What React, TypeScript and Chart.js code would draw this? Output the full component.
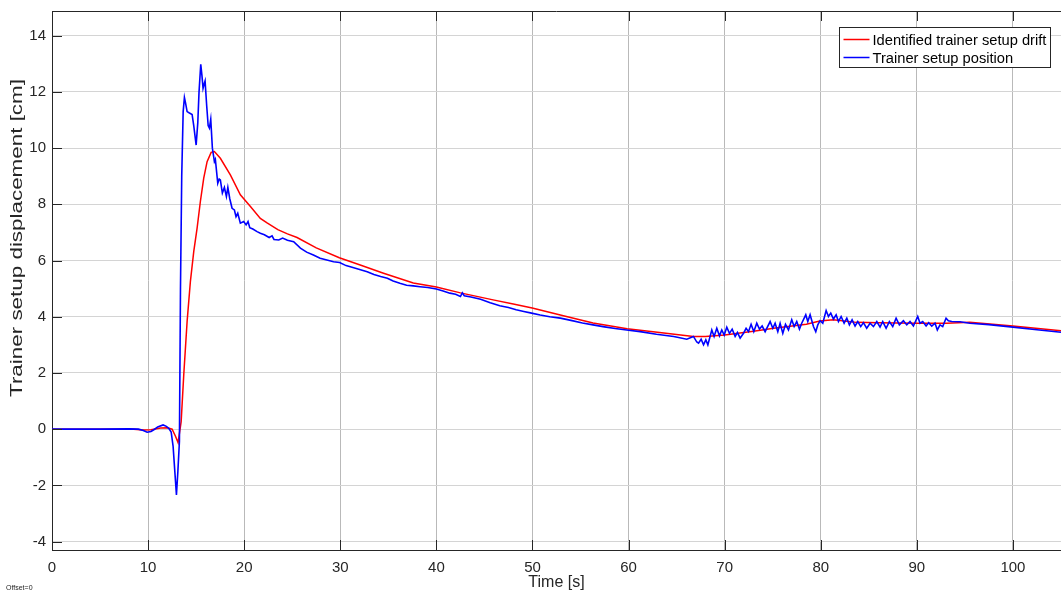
import { useEffect, useRef } from "react";
import { Chart, registerables } from "chart.js";

Chart.register(...registerables);

// Identified drift of the trainer setup (time in s, displacement in cm)
const driftTime = [
  0, 8.5, 9.5, 10.3, 11.3, 12.0, 12.5, 12.85, 13.12, 13.44, 13.71, 14.06, 14.4, 14.75, 15.1,
  15.44, 15.79, 16.14, 16.56, 16.9, 17.52, 18.56, 19.6, 20.65, 21.68, 22.38, 23.5, 24.5, 25.5,
  27.5, 29.9, 32.0, 34.5, 37.6, 40.0, 42.5, 45.9, 48.0, 49.97, 53.0, 56.3, 59.85, 63.0, 66.75,
  68.0, 70.0, 73.0, 75.1, 78.5, 79.9, 81.3, 83.7, 86.0, 90.0, 93.1, 95.5, 100.0, 105.0,
];
const driftValues = [
  0, 0, -0.03, -0.02, 0.04, 0.05, 0.0, -0.25, -0.48, 0.27, 1.93, 3.83, 5.25, 6.32, 7.15,
  8.1, 8.93, 9.52, 9.85, 9.88, 9.64, 9.05, 8.34, 7.92, 7.5, 7.34, 7.1, 6.95, 6.82,
  6.45, 6.1, 5.85, 5.55, 5.2, 5.06, 4.85, 4.6, 4.45, 4.31, 4.05, 3.78, 3.57, 3.45, 3.3,
  3.3, 3.35, 3.48, 3.59, 3.73, 3.85, 3.89, 3.8, 3.79, 3.77, 3.77, 3.8, 3.67, 3.5,
];

// Measured position of the trainer setup
const positionTime = [
  0, 5, 8, 9, 9.5, 9.9, 10.3, 10.6, 11.0, 11.56, 11.9, 12.15, 12.4, 12.6, 12.8, 12.95, 13.1,
  13.26, 13.37, 13.5, 13.65, 13.78, 13.9, 14.06, 14.3, 14.58, 14.75, 15.0, 15.17, 15.3, 15.48,
  15.6, 15.72, 15.85, 15.93, 16.1, 16.25, 16.38, 16.52, 16.69, 16.9, 17.0, 17.25, 17.4, 17.52,
  17.73, 17.94, 18.15, 18.3, 18.5, 18.74, 18.98, 19.15, 19.33, 19.6, 19.95, 20.2, 20.4, 20.58,
  20.9, 21.34, 21.68, 22.1, 22.6, 22.9, 23.1, 23.6, 24.0, 24.5, 25.15, 25.85, 26.5, 27.2, 27.9,
  28.6, 29.3, 29.93, 30.6, 31.4, 32.1, 32.8, 33.5, 34.2, 34.9, 35.5, 36.2, 36.9, 37.6, 38.3,
  39.1, 40.0, 40.7, 41.4, 42.0, 42.5, 42.7, 42.9, 43.6, 44.6, 45.6, 46.6, 47.5, 48.3, 49.1,
  49.9, 50.8, 51.8, 52.9, 54.0, 55.2, 56.3, 57.5, 58.6, 59.8, 61.2, 62.9, 64.7, 66.06, 66.75,
  67.1, 67.28, 67.55, 67.8, 68.04, 68.25, 68.66, 68.9, 69.18, 69.46, 69.7, 69.95, 70.22, 70.5,
  70.78, 71.09, 71.33, 71.61, 71.96, 72.23, 72.48, 72.75, 73.03, 73.34, 73.62, 73.9, 74.21,
  74.73, 75.01, 75.25, 75.53, 75.77, 76.05, 76.33, 76.64, 76.98, 77.23, 77.5, 77.78, 78.02,
  78.44, 78.65, 78.89, 79.24, 79.48, 79.69, 79.93, 80.21, 80.56, 80.8, 81.04, 81.32, 81.6,
  81.84, 82.12, 82.43, 82.71, 82.98, 83.26, 83.57, 83.85, 84.16, 84.44, 84.78, 85.13, 85.48,
  85.83, 86.17, 86.45, 86.8, 87.14, 87.49, 87.84, 88.18, 88.6, 88.95, 89.29, 89.64, 90.09,
  90.33, 90.61, 90.96, 91.23, 91.55, 91.89, 92.13, 92.41, 92.69, 93.04, 93.28, 93.63, 94.49,
  95.53, 97.5, 100, 102.5, 105,
];
const positionValues = [
  0, 0, 0.01, 0, -0.05, -0.11, -0.08, -0.02, 0.08, 0.15, 0.1, 0.03, -0.1, -0.6, -1.6, -2.34, -1.5,
  -0.44, 5.03, 9.0, 11.3, 11.8, 11.6, 11.3, 11.25, 11.2, 10.8, 10.11, 10.9, 12.0, 12.98,
  12.6, 12.13, 12.3, 12.39, 11.5, 10.8, 10.71, 11.03, 10.0, 9.52, 9.6, 8.75, 8.9, 8.87,
  8.4, 8.6, 8.28, 8.6, 8.2, 7.86, 7.8, 7.56, 7.68, 7.33, 7.39, 7.27, 7.39, 7.17,
  7.12, 7.03, 6.97, 6.92, 6.82, 6.88, 6.75, 6.73, 6.8, 6.72, 6.67, 6.44, 6.3, 6.2, 6.08,
  6.02, 5.96, 5.93, 5.82, 5.74, 5.67, 5.6, 5.5, 5.43, 5.37, 5.27, 5.19, 5.12, 5.1, 5.07,
  5.04, 4.99, 4.92, 4.84, 4.8, 4.72, 4.85, 4.75, 4.7, 4.62, 4.5, 4.39, 4.33, 4.25, 4.19,
  4.13, 4.06, 4.0, 3.95, 3.87, 3.78, 3.71, 3.64, 3.58, 3.53, 3.47, 3.38, 3.3, 3.2, 3.3,
  3.1, 3.06, 3.2, 3.0, 3.18, 3.0, 3.53, 3.3, 3.59, 3.32, 3.53, 3.35, 3.63, 3.41,
  3.56, 3.3, 3.44, 3.24, 3.41, 3.59, 3.47, 3.73, 3.47, 3.77, 3.56, 3.67, 3.47,
  3.83, 3.59, 3.77, 3.47, 3.77, 3.41, 3.73, 3.53, 3.89, 3.65, 3.83, 3.56, 3.77,
  4.07, 3.83, 4.07, 3.65, 3.47, 3.71, 3.86, 3.77, 4.22, 4.01, 4.13, 3.92, 4.07,
  3.83, 4.01, 3.77, 3.95, 3.71, 3.89, 3.67, 3.83, 3.65, 3.79, 3.59, 3.77, 3.65,
  3.83, 3.63, 3.83, 3.59, 3.83, 3.65, 3.95, 3.71, 3.86, 3.71, 3.83, 3.67, 4.01,
  3.77, 3.83, 3.67, 3.79, 3.67, 3.77, 3.53, 3.71, 3.65, 3.95, 3.86, 3.83, 3.82,
  3.77, 3.72, 3.63, 3.54, 3.45,
];

const seriesNames = ["Identified trainer setup drift", "Trainer setup position"];
const seriesColors = ["#ff0000", "#0000ff"];
const xTickValues = [0, 10, 20, 30, 40, 50, 60, 70, 80, 90, 100];
const yTickValues = [-4, -2, 0, 2, 4, 6, 8, 10, 12, 14];
const xAxisTitle = "Time [s]";
const yAxisTitle = "Trainer setup displacement [cm]";
const footNote = "Offset=0";

const FONT = "'Liberation Sans', Arial, Helvetica, sans-serif";
const AXIS_COLOR = "#262626";

const pairs = (xs: number[], ys: number[]) => xs.map((x, i) => ({ x, y: ys[i] }));

// Axes box, inward tick marks, titles and the legend, drawn in MATLAB style
const decorations = {
  id: "decorations",
  afterDatasetsDraw(chart: any) {
    const { ctx, chartArea, scales } = chart;
    const { left, top, right, bottom } = chartArea;
    ctx.save();
    ctx.strokeStyle = AXIS_COLOR;
    ctx.lineWidth = 1;
    ctx.beginPath();
    ctx.moveTo(left, Math.round(top) + 0.5);
    ctx.lineTo(right, Math.round(top) + 0.5);
    ctx.stroke();
    const tickLen = 10;
    ctx.beginPath();
    for (const v of xTickValues) {
      const px = Math.round(scales.x.getPixelForValue(v)) + 0.5;
      ctx.moveTo(px, bottom);
      ctx.lineTo(px, bottom - tickLen);
      ctx.moveTo(px, top);
      ctx.lineTo(px, top + tickLen);
    }
    for (const v of yTickValues) {
      const py = Math.round(scales.y.getPixelForValue(v)) + 0.5;
      ctx.moveTo(left, py);
      ctx.lineTo(left + tickLen, py);
    }
    ctx.stroke();

    // axis titles
    ctx.fillStyle = AXIS_COLOR;
    ctx.font = `16px ${FONT}`;
    ctx.textAlign = "center";
    ctx.textBaseline = "middle";
    ctx.fillText(xAxisTitle, (left + right) / 2, 583);
    ctx.save();
    ctx.translate(18, 238);
    ctx.rotate(-Math.PI / 2);
    ctx.scale(1.4, 1);
    ctx.fillText(yAxisTitle, 0, 0);
    ctx.restore();

    ctx.font = `7px ${FONT}`;
    ctx.textAlign = "left";
    ctx.fillText(footNote, 6, 588);

    // legend
    const bx = 839.5, by = 27.5, bw = 211, bh = 40;
    ctx.fillStyle = "#ffffff";
    ctx.fillRect(bx, by, bw, bh);
    ctx.strokeStyle = AXIS_COLOR;
    ctx.strokeRect(bx, by, bw, bh);
    ctx.font = `14.7px ${FONT}`;
    ctx.textBaseline = "middle";
    seriesNames.forEach((name, i) => {
      const cy = by + 12 + i * 18;
      ctx.strokeStyle = seriesColors[i];
      ctx.lineWidth = 1.5;
      ctx.beginPath();
      ctx.moveTo(bx + 4, cy);
      ctx.lineTo(bx + 30, cy);
      ctx.stroke();
      ctx.fillStyle = "#000000";
      ctx.fillText(name, bx + 33, cy + 1);
    });
    ctx.restore();
  },
};

export default function App() {
  const canvasRef = useRef<HTMLCanvasElement | null>(null);

  useEffect(() => {
    const canvas = canvasRef.current;
    if (!canvas) return;
    const chart = new Chart(canvas, {
      type: "line",
      data: {
        datasets: [
          {
            label: seriesNames[0],
            data: pairs(driftTime, driftValues),
            borderColor: seriesColors[0],
            borderWidth: 1.5,
            pointRadius: 0,
            tension: 0,
            order: 2,
          },
          {
            label: seriesNames[1],
            data: pairs(positionTime, positionValues),
            borderColor: seriesColors[1],
            borderWidth: 1.6,
            pointRadius: 0,
            tension: 0,
            order: 1,
          },
        ],
      },
      options: {
        responsive: false,
        animation: false,
        events: [],
        layout: { padding: { top: 11, right: 0, bottom: 0, left: 0 } },
        plugins: { legend: { display: false }, tooltip: { enabled: false } },
        scales: {
          x: {
            type: "linear",
            min: 0,
            max: 105,
            afterBuildTicks: (s: any) => {
              s.ticks = xTickValues.map((value) => ({ value }));
            },
            afterFit: (s: any) => {
              s.height = 44;
              s.paddingLeft = 0;
              s.paddingRight = 0;
            },
            grid: { color: "#b9b9b9", lineWidth: 1, drawTicks: false },
            border: { display: true, color: AXIS_COLOR, width: 1 },
            ticks: {
              padding: 9,
              color: AXIS_COLOR,
              font: { family: FONT, size: 15 },
              maxRotation: 0,
              autoSkip: false,
            },
          },
          y: {
            type: "linear",
            min: -4.3,
            max: 14.88,
            afterBuildTicks: (s: any) => {
              s.ticks = yTickValues.map((value) => ({ value }));
            },
            afterFit: (s: any) => {
              s.width = 52;
              s.paddingTop = 0;
              s.paddingBottom = 0;
            },
            grid: { color: "#d4d4d4", lineWidth: 1, drawTicks: false },
            border: { display: true, color: AXIS_COLOR, width: 1 },
            ticks: {
              padding: 6,
              color: AXIS_COLOR,
              font: { family: FONT, size: 15 },
              autoSkip: false,
            },
          },
        },
      },
      plugins: [decorations],
    });
    return () => chart.destroy();
  }, []);

  return (
    <canvas
      ref={canvasRef}
      width={1061}
      height={594}
      style={{ position: "fixed", left: 0, top: 0, width: 1061, height: 594, background: "#ffffff" }}
    />
  );
}
